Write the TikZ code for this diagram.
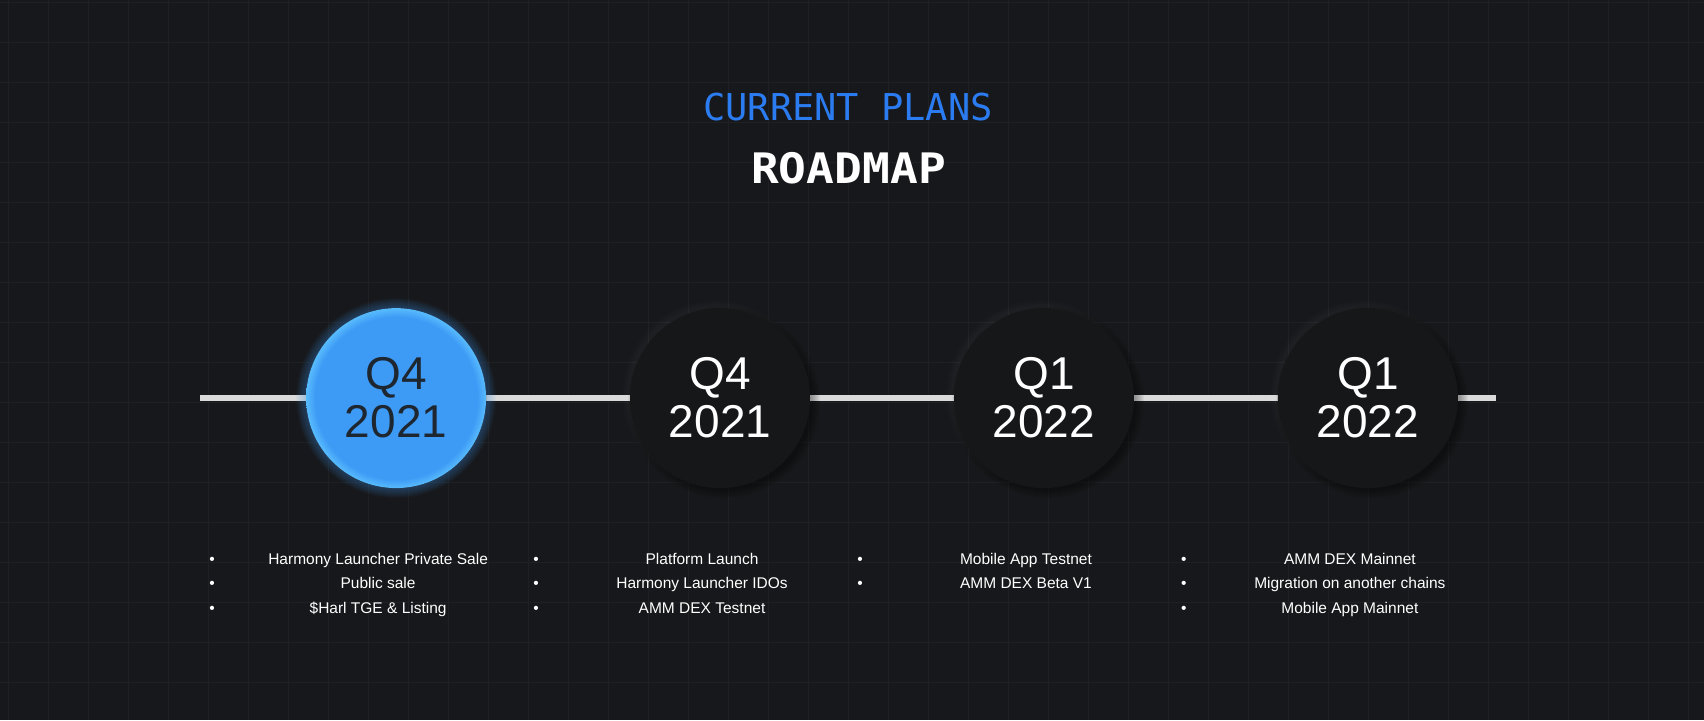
\documentclass[tikz,border=0pt]{standalone}
\usepackage{fontspec}
\setmainfont{Liberation Sans}
\newfontfamily\monofont{DejaVu Sans Mono}
\usetikzlibrary{positioning}

\definecolor{pagebg}{HTML}{17181B}
\definecolor{gridline}{HTML}{1F2023}
\definecolor{planblue}{HTML}{2B7CF0}
\definecolor{qblue}{HTML}{3D9AF5}
\definecolor{qrim}{HTML}{58BBFD}
\definecolor{qdark}{HTML}{161719}
\definecolor{qtext}{HTML}{1E2630}
\definecolor{trackgray}{HTML}{DADADA}

\pgfdeclareradialshading{qdisc}{\pgfpoint{0bp}{0bp}}{color(0bp)=(qblue); color(22.5bp)=(qblue); color(25bp)=(qrim); color(50bp)=(qrim)}
\pgfdeclarelayer{back}
\pgfdeclarelayer{glow}
\pgfsetlayers{back,glow,main}

\tikzset{
  quarter/.style={circle, minimum size=180pt, inner sep=0pt, fill=qdark, text=white,
    align=center, font=\fontsize{46}{48}\selectfont},
  current/.style={quarter, shade, shading=qdisc, text=qtext},
  bullets/.style={anchor=north, inner sep=0pt, text=white, align=center,
    font=\fontsize{15.5}{24.5}\selectfont},
  items/.style={bullets},
  track/.style={draw=trackgray, line width=6pt}
}

\begin{document}
\begin{tikzpicture}[x=1pt,y=-1pt,node distance=324pt,on grid]
    \begin{pgfonlayer}{back}
        \fill[pagebg] (0,0) rectangle (1704,720);
        \foreach \x in {8,48,...,1688} \draw[gridline] (\x,0) -- (\x,720);
        \foreach \y in {2,42,...,682} \draw[gridline] (0,\y) -- (1704,\y);
    \end{pgfonlayer}
    \useasboundingbox (0,0) rectangle (1704,720);

    % heading
    \node[text=planblue, inner sep=0pt, font=\monofont\fontsize{37}{37}\selectfont] (plans) at (848,106.5) {CURRENT PLANS};
    \node[text=white, inner sep=0pt, font=\monofont\bfseries\fontsize{42}{42}\selectfont] (roadmap) at (848.5,168) {\scalebox{1.1}[1]{ROADMAP}};

    % quarters
    \node[current] (q1) at (396,398) {Q4\\2021};
    \node[quarter] (q2) [right=of q1] {Q4\\2021};
    \node[quarter] (q3) [right=of q2] {Q1\\2022};
    \node[quarter] (q4) [right=of q3] {Q1\\2022};

    \coordinate (start) at (200,398);
    \coordinate (end) at (1496,398);
    \begin{pgfonlayer}{back}
        \path[track] (start) edge (q1) (q1) edge (q2) (q2) edge (q3) (q3) edge (q4) (q4) edge (end);
    \end{pgfonlayer}

    \begin{pgfonlayer}{glow}
        \foreach \r in {1,...,10} \fill[qblue, opacity=0.035] (q1) circle[radius=90pt+\r pt];
        \foreach \q in {q2,q3,q4} {
            \foreach \r in {0,...,8} \fill[black, opacity=0.04] ([shift={(4pt,-4pt)}]\q.center) circle[radius=88pt+\r pt];
            \foreach \r in {0,...,6} \fill[white, opacity=0.006] ([shift={(-4pt,4pt)}]\q.center) circle[radius=88pt+\r pt];
        }
    \end{pgfonlayer}

    % plans per quarter
    \node[bullets] (b1) at (212,547) {\strut•\\•\\•};
    \node[items] (l1) at (378,547) {\strut Harmony Launcher Private Sale\\Public sale\\\$Harl TGE \& Listing};
    \node[bullets] (b2) at (536,547) {\strut•\\•\\•};
    \node[items] (l2) at (702,547) {\strut Platform Launch\\Harmony Launcher IDOs\\AMM DEX Testnet};
    \node[bullets] (b3) at (860,547) {\strut•\\•};
    \node[items] (l3) at (1026,547) {\strut Mobile App Testnet\\AMM DEX Beta V1};
    \node[bullets] (b4) at (1184,547) {\strut•\\•\\•};
    \node[items] (l4) at (1350,547) {\strut AMM DEX Mainnet\\Migration on another chains\\Mobile App Mainnet};
\end{tikzpicture}
\end{document}
